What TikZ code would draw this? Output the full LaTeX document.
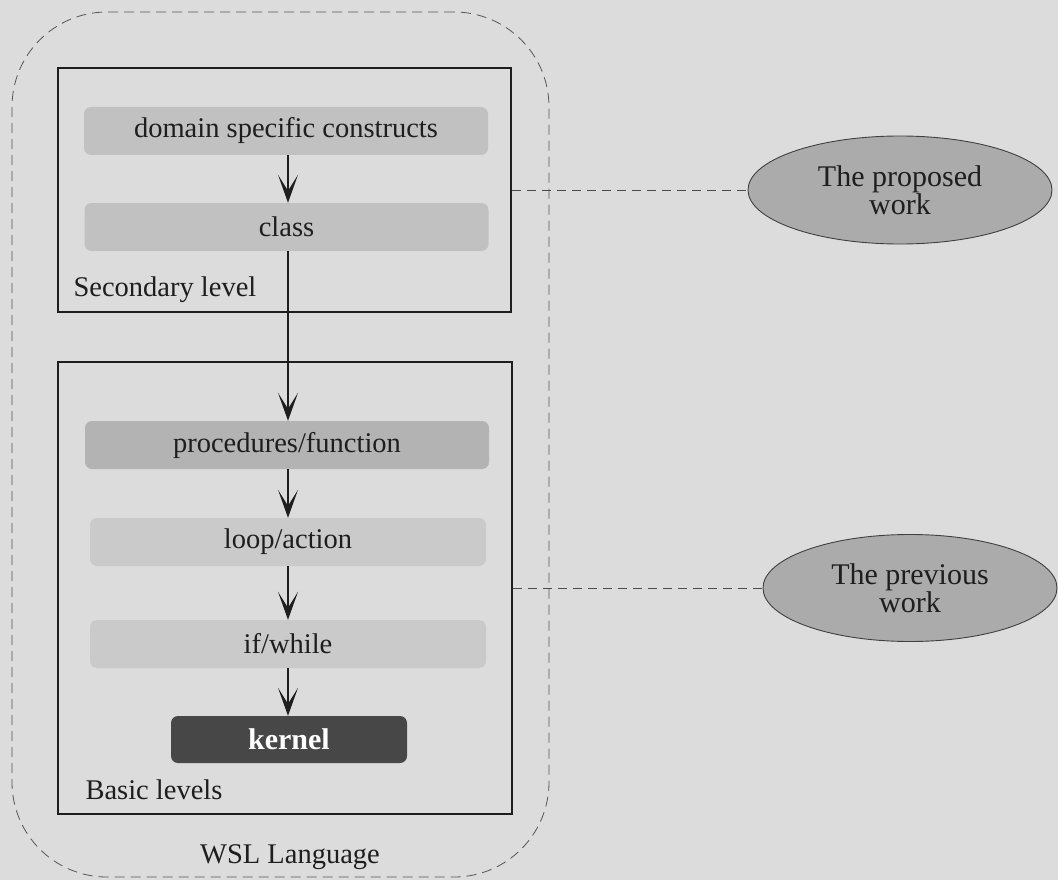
\documentclass[tikz,border=0pt]{standalone}
\usepackage{fontspec}
\setmainfont{Liberation Serif}
\usetikzlibrary{shapes.geometric,arrows.meta}
\definecolor{bgcol}{HTML}{DCDCDC}
\definecolor{midbar}{HTML}{C1C1C1}
\definecolor{darkbar}{HTML}{B3B3B3}
\definecolor{lightbar}{HTML}{CACACA}
\definecolor{kernelcol}{HTML}{474747}
\definecolor{ovalcol}{HTML}{ABABAB}
\definecolor{inkcol}{HTML}{1E1E1E}
\tikzset{
  txt/.style={font=\fontsize{28.5}{30}\selectfont, text=inkcol},
  bar/.style={txt, rounded corners=7pt, minimum width=404pt, minimum height=48pt, inner sep=0pt},
  levelbox/.style={draw=inkcol, line width=1.5pt, inner sep=0pt},
  flow/.style={draw=inkcol, line width=1.6pt, -{Stealth[length=28pt,width=20pt,inset=16pt]}},
  link/.style={draw=inkcol!80, line width=0.8pt, dash pattern=on 9pt off 6pt},
  oval/.style={ellipse, fill=ovalcol, draw=inkcol!85, line width=0.9pt, inner sep=0pt,
    align=center, font=\fontsize{30}{28}\selectfont, text=inkcol}
}
\begin{document}
\begin{tikzpicture}[x=1pt,y=-1pt]
  \useasboundingbox (0,0) rectangle (1058,880);
  \fill[bgcol] (0,0) rectangle (1058,880);

  % outer language frame
  \node[draw=inkcol!75, line width=0.8pt, dash pattern=on 10pt off 6pt, rounded corners=95pt,
        minimum width=537pt, minimum height=865pt, inner sep=0pt] (wsl) at (280.5,444.5) {};
  \node[txt] (wsllabel) at (290,857) {WSL Language};

  % secondary level
  \node[levelbox, minimum width=453pt, minimum height=244pt] (secondary) at (284.5,190) {};
  \node[txt, anchor=west] (seclabel) at (70,290) {Secondary level};
  \node[bar, fill=midbar] (domain) at (286,131) {domain specific constructs};
  \node[bar, fill=midbar] (class) at (286.5,227) {class};

  % basic levels
  \node[levelbox, minimum width=454pt, minimum height=452pt] (basic) at (285,588) {};
  \node[txt, anchor=west] (baslabel) at (82,790) {Basic levels};
  \node[bar, fill=darkbar] (proc) at (287,445) {procedures/function};
  \node[bar, fill=lightbar, minimum width=396pt] (loop) at (288,542) {loop/action};
  \node[bar, fill=lightbar, minimum width=396pt] (ifw) at (288,644) {if/while};
  \node[bar, fill=kernelcol, minimum width=236pt, minimum height=47pt, text=white,
        font=\fontsize{30}{30}\selectfont\bfseries] (kernel) at (289,739.5) {kernel};

  % flow between the levels
  \draw[flow] (domain.south -| 288,0) -- (class.north -| 288,0);
  \draw[flow] (class.south -| 288,0) -- (proc.north -| 288,0);
  \draw[flow] (proc.south -| 288,0) -- (loop.north -| 288,0);
  \draw[flow] (loop.south -| 288,0) -- (ifw.north -| 288,0);
  \draw[flow] (ifw.south -| 288,0) -- (kernel.north -| 288,0);

  % annotations
  \node[oval, minimum width=304pt, minimum height=108pt] (proposed) at (900,190) {The proposed\\work};
  \node[oval, minimum width=294pt, minimum height=107pt] (previous) at (910,588) {The previous\\work};
  \draw[link] (secondary.east) -- (proposed.west);
  \draw[link] (basic.east) -- (previous.west);
\end{tikzpicture}
\end{document}
